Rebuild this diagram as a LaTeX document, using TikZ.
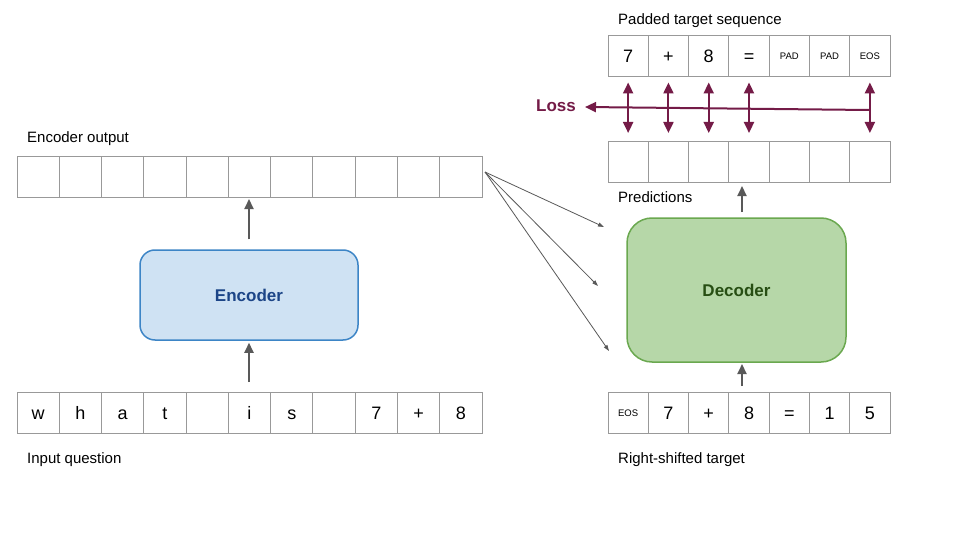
\documentclass[tikz,border=0pt]{standalone}
\usepackage{fontspec}
\setmainfont{Liberation Sans}
\usetikzlibrary{arrows.meta}
\definecolor{cellgray}{HTML}{999999}
\definecolor{arrgray}{HTML}{595959}
\definecolor{encfill}{HTML}{CFE2F3}
\definecolor{encdraw}{HTML}{3D85C6}
\definecolor{enctext}{HTML}{1C4587}
\definecolor{decfill}{HTML}{B6D7A8}
\definecolor{decdraw}{HTML}{6AA84F}
\definecolor{dectext}{HTML}{274E13}
\definecolor{losscol}{HTML}{741B47}
\newcommand{\smalltok}[1]{\raisebox{3pt}{\fontsize{9.5}{11}\selectfont #1}}
\tikzset{
  cellA/.style={draw=cellgray, line width=0.8pt, minimum width=42.27pt, minimum height=41pt,
    inner sep=0pt, outer sep=0pt, text height=13pt, text depth=0pt,
    font=\fontsize{18}{20}\selectfont},
  cellB/.style={cellA, minimum width=40.29pt},
  lbl/.style={anchor=base west, inner sep=0pt, font=\fontsize{15}{18}\selectfont},
  bigarrow/.style={draw=arrgray, line width=2pt, -{Triangle[width=9pt,length=10pt]}},
  thinarrow/.style={draw=arrgray, line width=0.8pt, -{Triangle[width=4pt,length=6pt]}},
  lossarrow/.style={draw=losscol, line width=2pt, {Triangle[width=10pt,length=11pt]}-{Triangle[width=10pt,length=11pt]}},
  lossline/.style={draw=losscol, line width=2pt, -{Triangle[width=10pt,length=11pt]}},
}
\begin{document}
\begin{tikzpicture}[x=1pt,y=-1pt]
\useasboundingbox (0,0) rectangle (960,540);
\fill[white] (0,0) rectangle (960,540);

% Encoder output row
\foreach \i in {1,...,11}
  \node[cellA] (e\i) at ({17+42.27*(\i-0.5)},176.5) {};
% Input question row
\foreach \t [count=\i] in {w,h,a,t,{},i,s,{},7,+,8}
  \node[cellA] (q\i) at ({17+42.27*(\i-0.5)},412.5) {\t};

% Padded target row
\foreach \t [count=\i] in {7,+,8,=,{\smalltok{PAD}},{\smalltok{PAD}},{\smalltok{EOS}}}
  \node[cellB] (p\i) at ({608+40.29*(\i-0.5)},56) {\t};
% Predictions row
\foreach \i in {1,...,7}
  \node[cellB] (r\i) at ({608+40.29*(\i-0.5)},161.5) {};
% Right-shifted target row
\foreach \t [count=\i] in {{\smalltok{EOS}},7,+,8,=,1,5}
  \node[cellB] (s\i) at ({608+40.29*(\i-0.5)},412.5) {\t};

% Labels
\node[lbl] (lEO) at (27,143) {Encoder output};
\node[lbl] (lIQ) at (27,463) {Input question};
\node[lbl] (lPT) at (618,25) {Padded target sequence};
\node[lbl] (lPR) at (618,202) {Predictions};
\node[lbl] (lRS) at (618,463) {Right-shifted target};

% Encoder / Decoder
\node[draw=encdraw, fill=encfill, line width=1.5pt, rounded corners=15pt,
  minimum width=218pt, minimum height=90pt, inner sep=0pt,
  font=\fontsize{17}{20}\selectfont\bfseries, text=enctext] (enc) at (249,295) {Encoder};
\node[draw=decdraw, fill=decfill, line width=1.5pt, rounded corners=25pt,
  minimum width=219pt, minimum height=144pt, inner sep=0pt,
  font=\fontsize{17}{20}\selectfont\bfseries, text=dectext] (dec) at (736.5,290) {Decoder};

% Encoder arrows
\draw[bigarrow, shorten <=10pt, shorten >=2pt] (q6.north -| enc.south) -- (enc.south);
\draw[bigarrow, shorten <=10pt, shorten >=2pt] (enc.north) -- (e6.south -| enc.north);

% Decoder arrows
\coordinate (d1) at (742,386);
\coordinate (d2) at (742,364);
\coordinate (d3) at (742,212);
\coordinate (d4) at (742,186);
\draw[bigarrow] (d1) -- (d2);
\draw[bigarrow] (d3) -- (d4);

% Encoder output to decoder
\coordinate (eo) at (485,172);
\coordinate (t1) at (604,227);
\coordinate (t2) at (598,286);
\coordinate (t3) at (609,351);
\draw[thinarrow] (eo) -- (t1);
\draw[thinarrow] (eo) -- (t2);
\draw[thinarrow] (eo) -- (t3);

% Loss
\foreach \i in {1,2,3,4,7}
  \draw[lossarrow, shorten <=6pt, shorten >=8pt] (p\i.south) -- (r\i.north);
\coordinate (lr) at (869,110);
\coordinate (ll) at (585,107);
\draw[lossline] (lr) -- (ll);
\node[anchor=east, inner sep=0pt, text=losscol, font=\fontsize{17}{20}\selectfont\bfseries] (loss) at (576,106) {Loss};
\end{tikzpicture}
\end{document}
